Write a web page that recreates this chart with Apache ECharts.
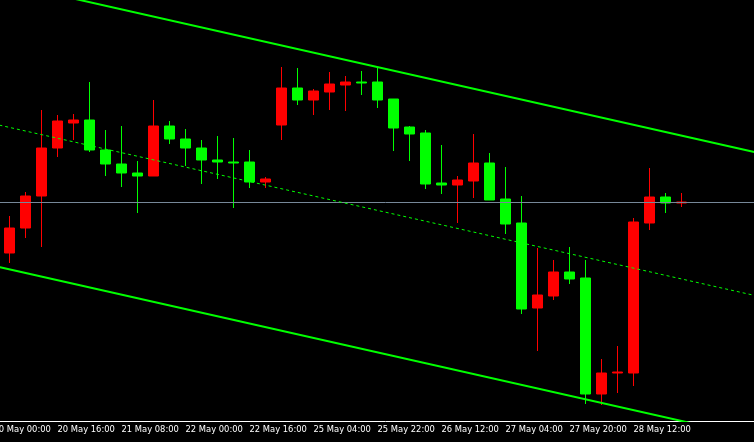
<!DOCTYPE html>
<html>
<head>
<meta charset="utf-8">
<script src="https://cdn.jsdelivr.net/npm/echarts@6/dist/echarts.min.js"></script>
<style>
html,body{margin:0;padding:0;background:#000;overflow:hidden;width:754px;height:442px;}
#chart{position:absolute;left:-16px;top:0;width:816px;height:442px;}
</style>
</head>
<body>
<div id="chart"></div>
<script>
// Category times (index 0 is the partially visible first tick, then 43 candles, then empty future slots)
const categories = [
  "20 May 00:00",
  "20 May 04:00","20 May 08:00","20 May 12:00","20 May 16:00","20 May 20:00",
  "21 May 00:00","21 May 04:00","21 May 08:00","21 May 12:00","21 May 16:00","21 May 20:00",
  "22 May 00:00","22 May 04:00","22 May 08:00","22 May 12:00","22 May 16:00","22 May 20:00",
  "24 May 20:00","25 May 00:00","25 May 04:00","25 May 08:00","25 May 12:00","25 May 18:00",
  "25 May 22:00","26 May 00:00","26 May 04:00","26 May 08:00","26 May 12:00","26 May 16:00",
  "26 May 20:00","27 May 00:00","27 May 04:00","27 May 08:00","27 May 12:00","27 May 16:00",
  "27 May 20:00","28 May 00:00","28 May 04:00","28 May 08:00","28 May 12:00","28 May 16:00",
  "28 May 20:00","29 May 00:00",
  "29 May 04:00","29 May 08:00","29 May 12:00","29 May 16:00","29 May 20:00","30 May 00:00"
];
const lastLabelIndex = 40;

const opens = [1.0949,1.0974,1.1006,1.1054,1.1079,1.1082,1.1052,1.1038,1.1029,1.1026,
  1.1076,1.1063,1.1054,1.1042,1.1040,1.1040,1.1020,1.1077,1.1114,1.1102,
  1.1110,1.1117,1.1120,1.1120,1.1103,1.1075,1.1069,1.1019,1.1017,1.1021,
  1.1039,1.1003,1.0979,1.0894,1.0906,1.0930,1.0924,1.0808,1.0829,1.0829,
  1.0979,1.1005,1.0999];
const closes = [1.0974,1.1006,1.1054,1.1081,1.1082,1.1052,1.1038,1.1029,1.1026,1.1076,
  1.1063,1.1054,1.1042,1.1040,1.1039,1.1020,1.1023,1.1114,1.1102,1.1111,
  1.1118,1.1120,1.1119,1.1102,1.1074,1.1068,1.1018,1.1017,1.1022,1.1039,
  1.1002,1.0978,1.0893,1.0907,1.0930,1.0923,1.0808,1.0829,1.0830,1.0980,
  1.1005,1.0999,1.1000];
const lows = [1.0939,1.0964,1.0955,1.1045,1.1062,1.1050,1.1026,1.1015,1.0989,1.1026,
  1.1058,1.1036,1.1018,1.1023,1.0994,1.1014,1.1014,1.1062,1.1097,1.1087,
  1.1092,1.1091,1.1107,1.1094,1.1051,1.1041,1.1013,1.1008,1.0979,1.1004,
  1.1002,1.0968,1.0888,1.0851,1.0902,1.0918,1.0798,1.0797,1.0809,1.0816,
  1.0972,1.0989,1.0995];
const highs = [1.0986,1.1010,1.1092,1.1087,1.1088,1.1120,1.1072,1.1076,1.1041,1.1102,
  1.1081,1.1073,1.1062,1.1066,1.1064,1.1052,1.1025,1.1135,1.1134,1.1113,
  1.1130,1.1126,1.1131,1.1134,1.1103,1.1076,1.1072,1.1057,1.1026,1.1068,
  1.1049,1.1035,1.1006,1.0954,1.0942,1.0955,1.0942,1.0843,1.0856,1.0984,
  1.1034,1.1009,1.1009];

const bidPrice = 1.1000;
// Regression channel: values at first and last category
const upperLine = [1.12215, 1.10447];
const middleLine = [1.10782, 1.09014];
const lowerLine = [1.09362, 1.07594];
const priceMin = 1.0781, priceMax = 1.1202;

const candleData = ['-'].concat(opens.map((o, i) => [o, closes[i], lows[i], highs[i]]));
const lastCat = categories.length - 1;
const ends = (arr) => [[categories[0], arr[0]], [categories[lastCat], arr[1]]];

const chart = echarts.init(document.getElementById('chart'), null, {renderer: 'canvas'});
const showAt = (i) => i % 4 === 0 && i <= lastLabelIndex;
chart.setOption({
  backgroundColor: '#000000',
  animation: false,
  grid: {left: 1.5, right: 14.5, top: 0, bottom: 21},
  xAxis: {
    type: 'category',
    data: categories,
    boundaryGap: true,
    axisLine: {lineStyle: {color: '#ffffff', width: 1}},
    axisTick: {alignWithLabel: true, length: 3, interval: showAt, lineStyle: {color: '#ffffff'}},
    axisLabel: {interval: showAt, align: 'left', color: '#ffffff', fontFamily: 'DejaVu Sans', fontSize: 8.4, margin: 5},
    splitLine: {show: false}
  },
  yAxis: {type: 'value', min: priceMin, max: priceMax, show: false, splitLine: {show: false}},
  series: [
    {
      type: 'candlestick',
      data: candleData,
      barWidth: 10,
      z: 2,
      itemStyle: {
        color: '#ff0000', color0: '#00ff00',
        borderColor: '#ff0000', borderColor0: '#00ff00',
        borderColorDoji: '#00ff00',
        borderWidth: 1
      },
      markLine: {
        silent: true,
        symbol: 'none',
        label: {show: false},
        lineStyle: {color: '#778899', type: 'solid', width: 1},
        data: [{yAxis: bidPrice}]
      }
    },
    {
      type: 'line', data: ends(upperLine), showSymbol: false, z: 5,
      lineStyle: {color: '#00ff00', width: 2}
    },
    {
      type: 'line', data: ends(middleLine), showSymbol: false, z: 5,
      lineStyle: {color: '#00ff00', width: 1, type: [3, 3]}
    },
    {
      type: 'line', data: ends(lowerLine), showSymbol: false, z: 5,
      lineStyle: {color: '#00ff00', width: 2}
    }
  ]
});
</script>
</body>
</html>
